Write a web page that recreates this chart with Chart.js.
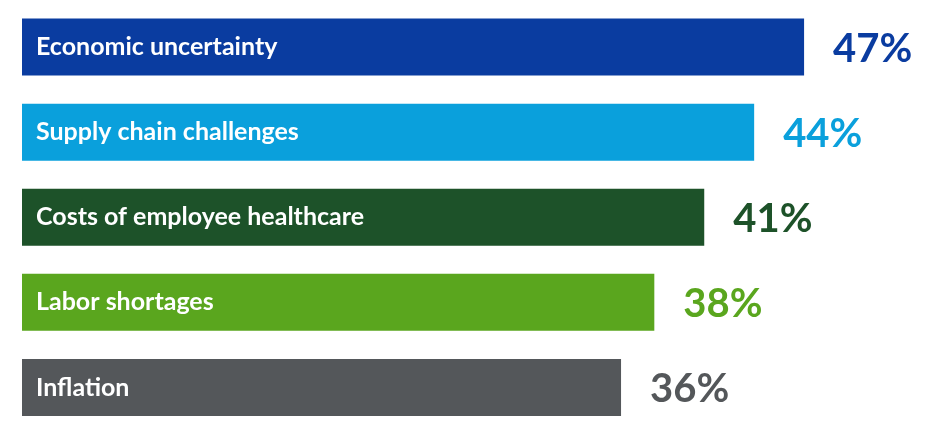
<!DOCTYPE html>
<html>
<head>
<meta charset="utf-8">
<script src="https://cdn.jsdelivr.net/npm/chart.js@4"></script>
<style>
    html, body { margin: 0; padding: 0; background: #ffffff; }
    #wrap { width: 936px; height: 443px; }
</style>
</head>
<body>
<div id="wrap"><canvas id="concernsChart"></canvas></div>
<script>
const categories = [
    "Economic uncertainty",
    "Supply chain challenges",
    "Costs of employee healthcare",
    "Labor shortages",
    "Inflation"
];
const values = [47, 44, 41, 38, 36];
const barColors = ["#0a3ca0", "#0aa0dc", "#1d5229", "#5aa61e", "#54575a"];

// writes the category name inside each bar and the percent after it
const barLabels = {
    id: "barLabels",
    afterDatasetsDraw(chart) {
        const ctx = chart.ctx;
        const meta = chart.getDatasetMeta(0);
        ctx.save();
        ctx.textBaseline = "middle";
        meta.data.forEach((bar, i) => {
            const left = bar.base;
            ctx.fillStyle = "#ffffff";
            ctx.font = "bold 25px Lato";
            ctx.textAlign = "left";
            ctx.fillText(categories[i], left + 14, bar.y);

            ctx.fillStyle = barColors[i];
            ctx.font = "bold 40px Lato";
            ctx.fillText(values[i] + "%", bar.x + 29, bar.y + 2);
        });
        ctx.restore();
    }
};

new Chart(document.getElementById("concernsChart"), {
    type: "bar",
    data: {
        labels: categories,
        datasets: [{
            data: values,
            backgroundColor: barColors,
            borderWidth: 0,
            categoryPercentage: 1,
            barPercentage: 0.67
        }]
    },
    options: {
        indexAxis: "y",
        responsive: true,
        maintainAspectRatio: false,
        animation: false,
        layout: {
            padding: { left: 22, right: 82, top: 4.5, bottom: 13 }
        },
        scales: {
            x: { display: false, min: 0, max: 50 },
            y: { display: false }
        },
        plugins: {
            legend: { display: false },
            tooltip: { enabled: false }
        }
    },
    plugins: [barLabels]
});
</script>
</body>
</html>
